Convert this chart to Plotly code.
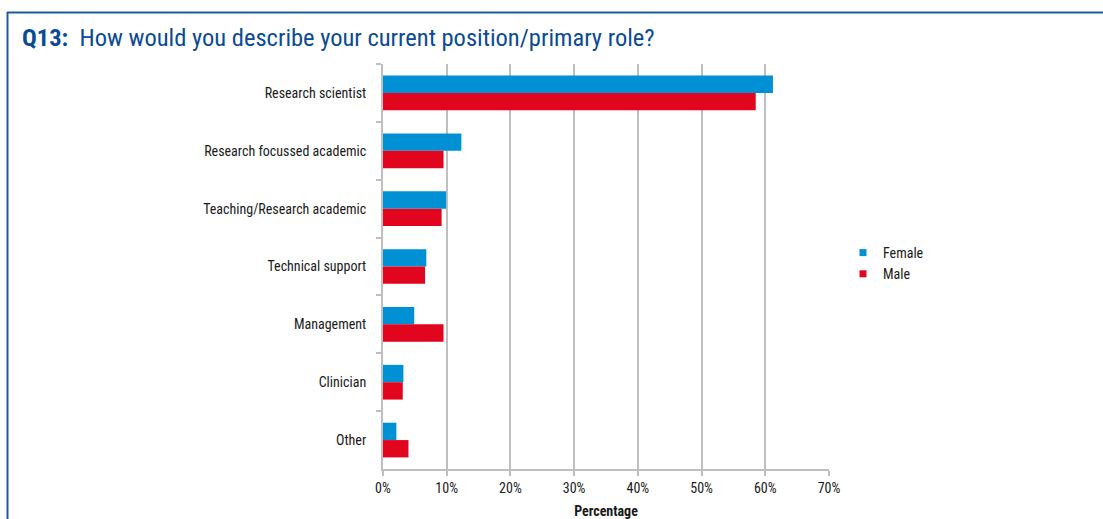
import plotly.graph_objects as go

categories = ["Research scientist", "Research focussed academic", "Teaching/Research academic",
              "Technical support", "Management", "Clinician", "Other"]
female = [61.2, 12.3, 9.9, 6.8, 4.9, 3.2, 2.1]
male = [58.5, 9.5, 9.2, 6.6, 9.5, 3.1, 4.0]
x_ticks = [0, 10, 20, 30, 40, 50, 60, 70]
x_tick_labels = [f"{v}%" for v in x_ticks]

W, H = 1103, 519
L, R, T, B = 383, 829, 64, 469
FONT = "Liberation Sans Narrow, Arial Narrow, Roboto Condensed, Roboto, sans-serif"
BLUE, RED = "#0091D4", "#E2051E"

def px(x):
    return (x - L) / (R - L)

def py(y):
    return 1 - (y - T) / (B - T)

fig = go.Figure()
fig.add_trace(go.Bar(y=categories, x=female, name="Female", orientation="h", showlegend=False,
                     marker=dict(color=BLUE, line=dict(width=0))))
fig.add_trace(go.Bar(y=categories, x=male, name="Male", orientation="h", showlegend=False,
                     marker=dict(color=RED, line=dict(width=0))))
# legend entries with small square markers
fig.add_trace(go.Scatter(x=[None], y=[None], mode="markers", name="Female",
                         marker=dict(symbol="square", size=7, color=BLUE)))
fig.add_trace(go.Scatter(x=[None], y=[None], mode="markers", name="Male",
                         marker=dict(symbol="square", size=7, color=RED)))

fig.update_layout(
    width=W, height=H,
    margin=dict(l=L, r=W - R, t=T, b=H - B, pad=0, autoexpand=False),
    paper_bgcolor="white", plot_bgcolor="white",
    barmode="group", bargap=0.40, bargroupgap=0,
    font=dict(family=FONT, size=14, color="#1a1a1a"),
    legend=dict(x=px(843), y=py(237), xanchor="left", yanchor="top",
                font=dict(size=14), itemwidth=30, tracegroupgap=0,
                bgcolor="rgba(0,0,0,0)"),
    xaxis=dict(range=[0, 70], tickvals=x_ticks, ticktext=x_tick_labels,
               showgrid=True, gridcolor="#BFBFBF", gridwidth=2,
               showline=True, linecolor="#BFBFBF", linewidth=2,
               ticks="outside", ticklen=5, tickcolor="#BFBFBF", tickwidth=2,
               ticklabelstandoff=0, automargin=False,
               zeroline=False, fixedrange=True, tickfont=dict(size=14),
               title=dict(text="<b>Percentage</b>", font=dict(size=14), standoff=15)),
    yaxis=dict(autorange="reversed", showline=True, linecolor="#BFBFBF", linewidth=2,
               ticks="outside", tickson="boundaries", ticklen=5, tickcolor="#BFBFBF", tickwidth=2,
               ticklabelstandoff=12, showgrid=False, fixedrange=True, automargin=False),
    showlegend=True,
)

fig.add_annotation(x=px(20), y=py(38), xref="paper", yref="paper", xanchor="left", yanchor="middle",
                   text="<b>Q13:</b>  How would you describe your current position/primary role?",
                   showarrow=False, font=dict(family=FONT, size=24.5, color="#0B4A94"))

# frame lines
fig.add_shape(type="line", xref="paper", yref="paper", x0=px(7), x1=px(1103), y0=py(12.5), y1=py(12.5),
              line=dict(color="#1F5B9B", width=2))
fig.add_shape(type="line", xref="paper", yref="paper", x0=px(7.5), x1=px(7.5), y0=py(12), y1=py(519),
              line=dict(color="#1F5B9B", width=2))

fig.write_html("out.html", config={"displayModeBar": False, "staticPlot": True},
               post_script="document.body.style.margin='0px';document.body.style.overflow='hidden';")
